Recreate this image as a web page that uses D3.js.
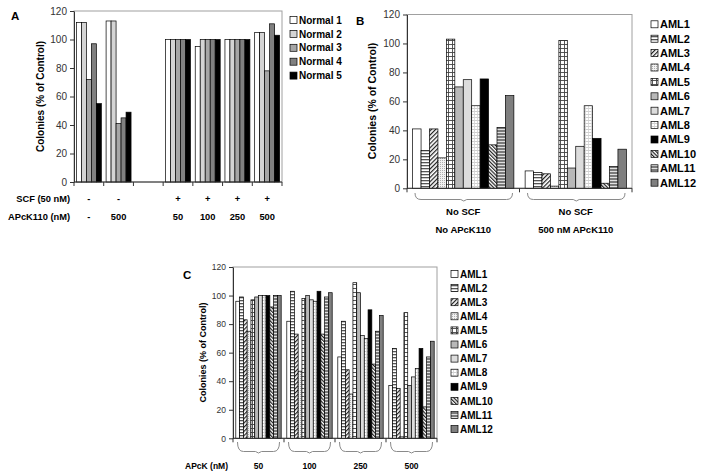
<!DOCTYPE html>
<html><head><meta charset="utf-8">
<script src="https://cdn.jsdelivr.net/npm/d3@7"></script>
<style>body{margin:0;background:#fff} text{font-family:"Liberation Sans",Arial,sans-serif}</style>
</head><body><svg id="c" width="701" height="476"></svg>
<script>
// ---------- DATA ----------
const ticksY = [0, 20, 40, 60, 80, 100, 120];
// Panel A
const catsA = ["g1", "g2", "g3", "g4", "g5", "g6", "g7"];
const scfA = ["-", "-", "", "+", "+", "+", "+"];
const apckA = ["-", "500", "", "50", "100", "250", "500"];
const seriesA = ["Normal 1", "Normal 2", "Normal 3", "Normal 4", "Normal 5"];
const normal1 = [112, 113, null, 100, 95, 100, 105];
const normal2 = [112, 113, null, 100, 100, 100, 105];
const normal3 = [72, 41, null, 100, 100, 100, 78];
const normal4 = [97, 45, null, 100, 100, 100, 111];
const normal5 = [55, 49, null, 100, 100, 100, 103];
// Panel B
const seriesAML = ["AML1", "AML2", "AML3", "AML4", "AML5", "AML6", "AML7", "AML8", "AML9", "AML10", "AML11", "AML12"];
const catsB = ["No SCF / No APcK110", "No SCF / 500 nM APcK110"];
const catsBLine1 = ["No SCF", "No SCF"];
const catsBLine2 = ["No APcK110", "500 nM APcK110"];
const amlB_noDrug = [41, 26, 41, 21, 103, 70, 75, 57, 75.5, 30, 42, 64];
const amlB_500 = [12, 11, 10, 1.5, 102, 14, 29, 57, 34.5, 3.5, 15, 27];
// Panel C
const catsC = ["50", "100", "250", "500"];
const amlC_50 = [96, 99, 83, 75, 97, 99, 100, 100, 100, 92, 100, 100];
const amlC_100 = [82, 103, 73, 47, 98, 100, 97, 96, 103, 73, 99, 102];
const amlC_250 = [57, 82, 48, 31, 109, 102, 72, 70, 90, 52, 75, 86];
const amlC_500 = [37, 63, 35, 1, 88, 37, 43, 49, 63, 22, 57, 68];

// ---------- SETUP ----------
const svg = d3.select("#c");
const defs = svg.append("defs");
function pat(id, w, h, draw, transform) {
  const p = defs.append("pattern").attr("id", id).attr("patternUnits", "userSpaceOnUse")
    .attr("width", w).attr("height", h);
  if (transform) p.attr("patternTransform", transform);
  draw(p);
}
const bg = (p, w, h, c) => p.append("rect").attr("width", w).attr("height", h).attr("fill", c);
pat("p2", 4, 3, p => { bg(p, 4, 3, "#fff"); p.append("rect").attr("width", 4).attr("height", 1.3).attr("fill", "#555"); });
pat("p3", 3, 3, p => { bg(p, 3, 3, "#fff"); p.append("rect").attr("width", 1.2).attr("height", 3).attr("fill", "#222"); }, "rotate(45)");
pat("p4", 2, 2, p => { bg(p, 2, 2, "#f2f2f2"); p.append("rect").attr("width", 1).attr("height", 1).attr("fill", "#b0b0b0"); });
pat("p5", 4, 4, p => { bg(p, 4, 4, "#fff"); p.append("rect").attr("width", 4).attr("height", 0.9).attr("fill", "#444"); p.append("rect").attr("width", 0.9).attr("height", 4).attr("fill", "#444"); });
pat("p8", 3, 3, p => { bg(p, 3, 3, "#fff"); p.append("rect").attr("width", 3).attr("height", 0.8).attr("fill", "#c4c4c4"); p.append("rect").attr("width", 0.8).attr("height", 3).attr("fill", "#d4d4d4"); });
pat("p10", 2.6, 2.6, p => { bg(p, 2.6, 2.6, "#fff"); p.append("rect").attr("width", 1.2).attr("height", 2.6).attr("fill", "#222"); }, "rotate(-45)");
pat("p11", 3, 3, p => { bg(p, 3, 3, "#7a7a7a"); p.append("rect").attr("width", 3).attr("height", 1).attr("fill", "#e0e0e0"); });

const fillsA = ["#ffffff", "#d4d4d4", "#a6a6a6", "#808080", "#000000"];
const fillsAML = ["#ffffff", "url(#p2)", "url(#p3)", "url(#p4)", "url(#p5)", "#b8b8b8", "#dcdcdc", "url(#p8)", "#000000", "url(#p10)", "url(#p11)", "#7f7f7f"];

function drawPanel(cfg) {
  const { x0, x1, yTop, y0, cats, nSeries, getVal, fills, gapFrac, tickFs } = cfg;
  const x = d3.scaleBand().domain(cats).range([x0, x1]).padding(0);
  const bw = x.bandwidth(), g = bw * gapFrac;
  const xs = d3.scaleBand().domain(d3.range(nSeries)).range([g / 2, bw - g / 2]).padding(0);
  const y = d3.scaleLinear().domain([0, 120]).range([y0, yTop]);
  const G = svg.append("g");
  G.append("rect").attr("x", x0).attr("y", yTop).attr("width", x1 - x0).attr("height", y0 - yTop)
    .attr("fill", "none").attr("stroke", "#a0a0a0").attr("stroke-width", 1);
  cats.forEach((c, ci) => {
    for (let s = 0; s < nSeries; s++) {
      const v = getVal(ci, s);
      if (v == null) continue;
      G.append("rect").attr("x", x(c) + xs(s)).attr("y", y(v)).attr("width", xs.bandwidth())
        .attr("height", y0 - y(v)).attr("fill", fills[s]).attr("stroke", "#000").attr("stroke-width", 0.7);
    }
  });
  const ax = G.append("g").attr("transform", `translate(${x0},0)`)
    .call(d3.axisLeft(y).tickValues(ticksY).tickSize(4).tickSizeOuter(0).tickPadding(3));
  ax.select(".domain").attr("stroke", "#333");
  ax.selectAll(".tick line").attr("stroke", "#333");
  ax.selectAll(".tick text").attr("font-size", tickFs).attr("fill", "#333")
    .attr("font-family", "'Liberation Sans',Arial,sans-serif");
  G.append("line").attr("x1", x0).attr("x2", x1).attr("y1", y0).attr("y2", y0).attr("stroke", "#333");
  const bounds = cats.map(c => x(c)).concat([x1]);
  G.selectAll(".xt").data(bounds).enter().append("line")
    .attr("x1", d => d).attr("x2", d => d).attr("y1", y0).attr("y2", y0 + 4).attr("stroke", "#333");
  return { x, y, G };
}

function txt(x, y, s, fs, opt = {}) {
  const t = svg.append("text").attr("x", x).attr("y", y).text(s).attr("font-size", fs)
    .attr("font-weight", opt.w || "bold").attr("fill", opt.c || "#000")
    .attr("text-anchor", opt.a || "start");
  if (opt.rot) t.attr("transform", `rotate(-90,${x},${y})`);
  return t;
}
function legend(x, y, dy, names, fills, fs, sq) {
  names.forEach((n, i) => {
    svg.append("rect").attr("x", x).attr("y", y + i * dy - sq / 2).attr("width", sq).attr("height", sq)
      .attr("fill", fills[i]).attr("stroke", "#000").attr("stroke-width", 0.7);
    txt(x + sq + 2, y + i * dy + fs * 0.36, n, fs);
  });
}
function brace(xa, xb, ya, yb) {
  const r = 6;
  svg.append("path").attr("d",
    `M${xa},${ya} Q${xa},${yb} ${xa + r},${yb} L${(xa + xb) / 2 - 3},${yb} L${(xa + xb) / 2},${yb + 1.5} L${(xa + xb) / 2 + 3},${yb} L${xb - r},${yb} Q${xb},${yb} ${xb},${ya}`)
    .attr("fill", "none").attr("stroke", "#8a8a8a").attr("stroke-width", 1);
}

// ---------- PANEL A ----------
const serA = [normal1, normal2, normal3, normal4, normal5];
const A = drawPanel({ x0: 74, x1: 282, yTop: 11, y0: 182, cats: catsA, nSeries: 5,
  getVal: (ci, s) => serA[s][ci], fills: fillsA, gapFrac: 0.16, tickFs: 10 });
txt(11, 20, "A", 11.5);
txt(40, 96.5, "Colonies (% of Control)", 10, { a: "middle", rot: true }).attr("dy", "0.35em");
legend(290, 20, 13.9, seriesA, fillsA, 10, 7);
txt(70, 201.5, "SCF (50 nM)", 9.3, { a: "end" });
txt(70, 220, "APcK110 (nM)", 9.3, { a: "end" });
catsA.forEach((c, i) => {
  const cx = A.x(c) + A.x.bandwidth() / 2;
  if (scfA[i]) txt(cx, 201.5, scfA[i], 9.3, { a: "middle" });
  if (apckA[i]) txt(cx, 220, apckA[i], 9.3, { a: "middle" });
});

// ---------- PANEL B ----------
const serB = [amlB_noDrug, amlB_500];
const B = drawPanel({ x0: 407, x1: 632, yTop: 14.5, y0: 188.3, cats: catsB, nSeries: 12,
  getVal: (ci, s) => serB[ci][s], fills: fillsAML, gapFrac: 0.1, tickFs: 10 });
txt(356, 25, "B", 11.5);
txt(372, 101, "Colonies (% of Control)", 10.5, { a: "middle", rot: true }).attr("dy", "0.35em");
legend(651, 24.3, 14.4, seriesAML, fillsAML, 11, 7);
catsB.forEach((c, i) => {
  const xa = B.x(c), xb = xa + B.x.bandwidth();
  brace(xa + 8, xb - 7, 193, 199.5);
  const cx = (xa + xb) / 2;
  txt(cx, 215, catsBLine1[i], 9.5, { a: "middle" });
  txt(cx, 232.5, catsBLine2[i], 9.5, { a: "middle" });
});

// ---------- PANEL C ----------
const serC = [amlC_50, amlC_100, amlC_250, amlC_500];
const C = drawPanel({ x0: 233, x1: 437, yTop: 267, y0: 438.3, cats: catsC, nSeries: 12,
  getVal: (ci, s) => serC[ci][s], fills: fillsAML, gapFrac: 0.11, tickFs: 8.5 });
txt(183, 278.5, "C", 11.5);
txt(202.5, 352.6, "Colonies (% of Control)", 9, { a: "middle", rot: true }).attr("dy", "0.35em");
legend(451, 274, 14.1, seriesAML, fillsAML, 10, 7);
txt(228, 468.5, "APcK (nM)", 8.5, { a: "end" });
catsC.forEach((c, i) => {
  const xa = C.x(c), xb = xa + C.x.bandwidth();
  brace(xa + 4.5, xb - 4.5, 442, 451.5);
  txt((xa + xb) / 2, 468.5, c, 8.5, { a: "middle" });
});
</script></body></html>
